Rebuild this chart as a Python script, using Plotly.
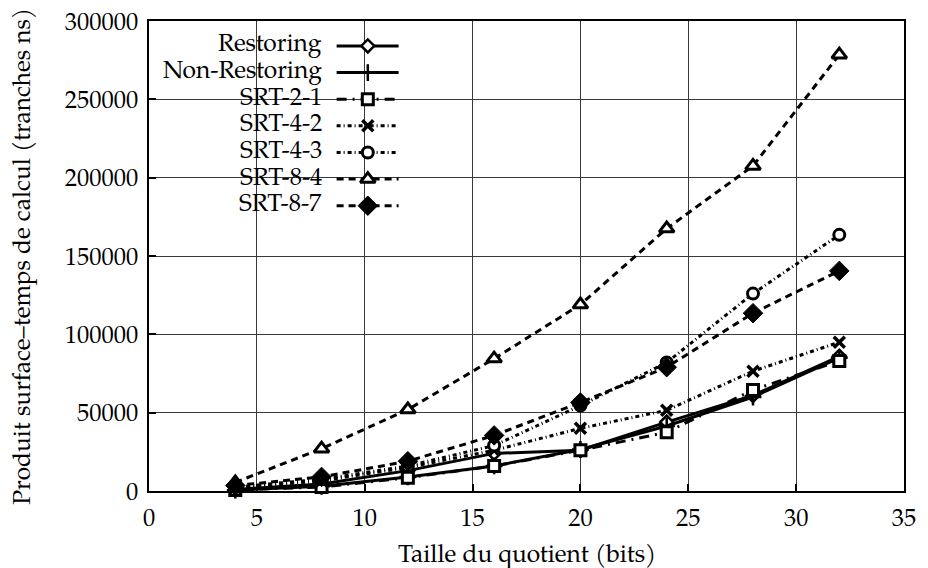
import plotly.graph_objects as go

# ---------------- data ----------------
x_bits = [4, 8, 12, 16, 20, 24, 28, 32]
restoring = [1000, 4500, 13000, 24000, 26000, 44000, 61000, 86000]
non_restoring = [500, 3000, 9000, 16000, 26500, 41500, 60000, 85000]
srt_2_1 = [700, 2500, 8500, 16000, 26000, 37500, 64500, 83000]
srt_4_2 = [2000, 6500, 15000, 26000, 40000, 51500, 76500, 95000]
srt_4_3 = [2500, 7500, 16000, 29000, 54500, 82000, 126000, 163500]
srt_8_4 = [5500, 27000, 52000, 84500, 119000, 167500, 207500, 278500]
srt_8_7 = [3500, 9000, 19000, 35500, 56500, 79000, 113500, 140500]
series_names = ["Restoring", "Non-Restoring", "SRT-2-1", "SRT-4-2",
                "SRT-4-3", "SRT-8-4", "SRT-8-7"]
series_values = [restoring, non_restoring, srt_2_1, srt_4_2,
                 srt_4_3, srt_8_4, srt_8_7]
x_title = "Taille du quotient (bits)"
y_title = "Produit surface\u2013temps de calcul (tranches ns)"

# ---------------- styles ----------------
FONT = "Palatino Linotype, TeX Gyre Pagella, Liberation Serif, serif"
FS = 24.5
styles = [
    dict(dash="solid", width=3, symbol="diamond", mcolor="white", msize=10, mlw=2.5),
    dict(dash="solid", width=3, symbol="cross-thin", mcolor="black", msize=12, mlw=2.5),
    dict(dash="10px,6px,2px,6px", width=3, symbol="square", mcolor="white", msize=11, mlw=3),
    dict(dash="4px,3px,1px,3px", width=3, symbol="x-thin", mcolor="black", msize=11, mlw=3.5),
    dict(dash="4px,3px,1px,3px", width=3, symbol="circle", mcolor="white", msize=11, mlw=3),
    dict(dash="7px,5px", width=3, symbol="triangle-up", mcolor="white", msize=13, mlw=3),
    dict(dash="7px,5px", width=3, symbol="diamond", mcolor="black", msize=15, mlw=1),
]

W_PX, H_PX = 928, 568
L, R, T, B = 149.3, 916.7, 20, 490.7


def px_x(px):
    return (px - L) / (R - L)


def px_y(py):
    return (B - py) / (B - T)


fig = go.Figure()

for name, vals, st in zip(series_names, series_values, styles):
    fig.add_trace(go.Scatter(
        x=x_bits, y=vals, name=name, mode="lines+markers",
        line=dict(color="black", width=st["width"], dash=st["dash"]),
        marker=dict(symbol=st["symbol"], size=st["msize"], color=st["mcolor"],
                    line=dict(color="black", width=st["mlw"])),
        showlegend=False, cliponaxis=False,
    ))

# ---------------- custom legend (text left of sample) ----------------
leg_text_x = px_x(326.7)
leg_x0, leg_x1, leg_xm = px_x(340), px_x(403), px_x(371.7)
leg_y0 = 45
leg_step = 26.67

shapes = [dict(type="rect", xref="paper", yref="paper",
               x0=px_x(195), x1=px_x(416.7), y0=px_y(217), y1=px_y(32),
               fillcolor="white", line=dict(width=0), layer="between")]
annotations = []
for i, (name, st) in enumerate(zip(series_names, styles)):
    yy = px_y(leg_y0 + i * leg_step)
    fig.add_trace(go.Scatter(
        x=[leg_x0, leg_x1], y=[yy, yy], mode="lines", xaxis="x2", yaxis="y2",
        line=dict(color="black", width=st["width"], dash=st["dash"]),
        showlegend=False, hoverinfo="skip"))
    fig.add_trace(go.Scatter(
        x=[leg_xm], y=[yy], mode="markers", xaxis="x2", yaxis="y2",
        marker=dict(symbol=st["symbol"], size=st["msize"], color=st["mcolor"],
                    line=dict(color="black", width=st["mlw"])),
        showlegend=False, hoverinfo="skip"))
    annotations.append(dict(x=leg_text_x, y=yy, xref="paper", yref="paper",
                            text=name, showarrow=False, xanchor="right",
                            yanchor="middle",
                            font=dict(family=FONT, size=FS, color="black")))

annotations.append(dict(x=0.5, y=px_y(556), xref="paper", yref="paper",
                        text=x_title, showarrow=False, xanchor="center",
                        yanchor="middle",
                        font=dict(family=FONT, size=FS, color="black")))
annotations.append(dict(x=px_x(22), y=0.5, xref="paper", yref="paper",
                        text=y_title, showarrow=False, xanchor="center",
                        yanchor="middle", textangle=-90,
                        font=dict(family=FONT, size=FS, color="black")))

axis_common = dict(showgrid=True, gridcolor="#3a3a3a", gridwidth=1,
                   showline=True, linecolor="black", linewidth=1.5, mirror=True,
                   ticks="inside", ticklen=7, tickwidth=1.5, tickcolor="black",
                   zeroline=False,
                   tickfont=dict(family=FONT, size=FS, color="black"))

fig.update_layout(
    width=W_PX, height=H_PX,
    margin=dict(l=L, r=W_PX - R, t=T, b=H_PX - B, pad=0),
    paper_bgcolor="white", plot_bgcolor="white",
    xaxis=dict(range=[0, 35], dtick=5, tick0=0, ticklabelstandoff=4,
               **axis_common),
    yaxis=dict(range=[0, 300000], dtick=50000, tick0=0, tickformat="d",
               ticklabelstandoff=4, **axis_common),
    xaxis2=dict(overlaying="x", range=[0, 1], visible=False, fixedrange=True),
    yaxis2=dict(overlaying="y", range=[0, 1], visible=False, fixedrange=True),
    shapes=shapes, annotations=annotations,
    showlegend=False,
)

fig.write_html("out.html",
               config={"displayModeBar": False},
               post_script="document.body.style.margin='0';"
                           "document.body.style.padding='0';")
